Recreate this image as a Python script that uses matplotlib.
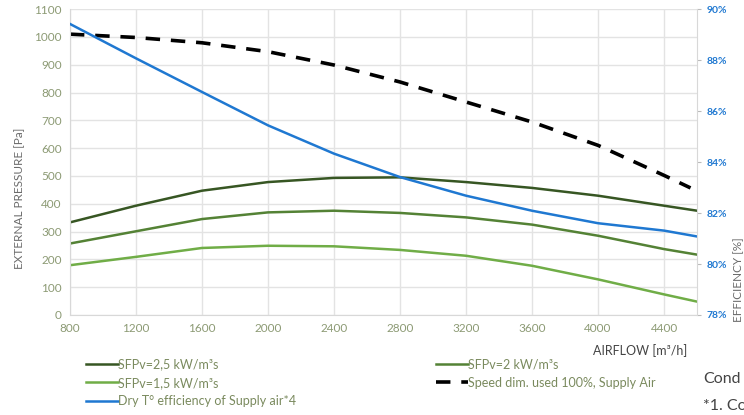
import matplotlib.pyplot as plt

plt.rcParams['font.family'] = ['Lato', 'DejaVu Sans']

# airflow [m3/h]
airflow = [800, 1200, 1600, 2000, 2400, 2800, 3200, 3600, 4000, 4400, 4600]
sfp_25 = [333, 393, 447, 478, 493, 495, 478, 457, 429, 393, 375]
sfp_20 = [257, 301, 345, 369, 375, 367, 351, 325, 285, 237, 217]
sfp_15 = [179, 209, 241, 249, 247, 234, 213, 177, 128, 74, 48]
# efficiency [%] on the right axis
eff_dry = [89.42, 88.07, 86.75, 85.44, 84.33, 83.41, 82.68, 82.09, 81.60, 81.31, 81.08]
# speed dim. curve (left axis)
speed_x = [800, 1200, 1600, 2000, 2400, 2800, 3200, 3600, 4000, 4400, 4560]
speed_y = [1010, 998, 979, 947, 899, 838, 766, 694, 610, 502, 457]

left_ticks = list(range(0, 1101, 100))
right_ticks = [78, 80, 82, 84, 86, 88, 90]
x_ticks = list(range(800, 4401, 400))

c_dark = '#375623'
c_mid = '#548235'
c_light = '#70ad47'
c_blue = '#1f78d1'
c_tick = '#8c9a74'
grid_c = '#e3e3e3'

fig = plt.figure(figsize=(7.44, 4.15), dpi=100)
ax = fig.add_axes([0.094, 0.241, 0.843, 0.737])

l1, = ax.plot(airflow, sfp_25, color=c_dark, lw=1.8, label='SFPv=2,5 kW/m³s')
l2, = ax.plot(airflow, sfp_20, color=c_mid, lw=1.8, label='SFPv=2 kW/m³s')
l3, = ax.plot(airflow, sfp_15, color=c_light, lw=1.8, label='SFPv=1,5 kW/m³s')
l4, = ax.plot(speed_x, speed_y, color='black', lw=2.6, ls=(0, (4, 3)),
              label='Speed dim. used 100%, Supply Air')

ax.set_xlim(800, 4600)
ax.set_ylim(0, 1100)
ax.set_xticks(x_ticks)
ax.set_yticks(left_ticks)
ax.grid(True, color=grid_c, lw=1)
ax.set_axisbelow(True)
for s in ['top', 'right']:
    ax.spines[s].set_visible(False)
ax.spines['left'].set_color('#d8d8d8')
ax.spines['bottom'].set_color('#d8d8d8')
ax.tick_params(axis='both', length=0, labelsize=8.5, labelcolor=c_tick, pad=6)

ax2 = ax.twinx()
l5, = ax2.plot(airflow, eff_dry, color=c_blue, lw=1.8,
               label='Dry T° efficiency of Supply air*4')
ax2.set_ylim(78, 90)
ax2.set_yticks(right_ticks)
ax2.set_yticklabels([f'{t}%' for t in right_ticks])
for s in ['top', 'left', 'bottom']:
    ax2.spines[s].set_visible(False)
ax2.spines['right'].set_color('#d8d8d8')
ax2.tick_params(axis='y', length=3, color='#bbbbbb', labelsize=7.5,
                labelcolor=c_blue, pad=4)
for t in ax2.get_yticklabels():
    t.set_fontweight('bold')

# axis titles placed like the reference
fig.text(0.027, 0.523, 'EXTERNAL PRESSURE [Pa]', rotation=90, ha='center',
         va='center', fontsize=8.5, color='#6b6b6b')
fig.text(0.985, 0.325, 'EFFICIENCY [%]', rotation=90, ha='left',
         va='center', fontsize=8.5, color='#6b6b6b')
fig.text(0.797, 0.145, 'AIRFLOW [m³/h]', fontsize=9, color='#444444')

leg_kw = dict(frameon=False, fontsize=9, handlelength=2.6, handletextpad=0.0,
              labelspacing=0.5, borderaxespad=0, borderpad=0)
leg1 = fig.legend(handles=[l1, l3, l5], loc='upper left',
                  bbox_to_anchor=(0.115, 0.136), **leg_kw)
leg2 = fig.legend(handles=[l2, l4], loc='upper left',
                  bbox_to_anchor=(0.586, 0.136), **leg_kw)
for lg in (leg1, leg2):
    for t in lg.get_texts():
        t.set_color('#7a8a5e')

fig.text(0.945, 0.077, 'Cond', fontsize=11.5, color='#444444')
fig.text(0.945, 0.012, '*1. Co', fontsize=11.5, color='#444444')

fig.savefig('out.png', dpi=100)
